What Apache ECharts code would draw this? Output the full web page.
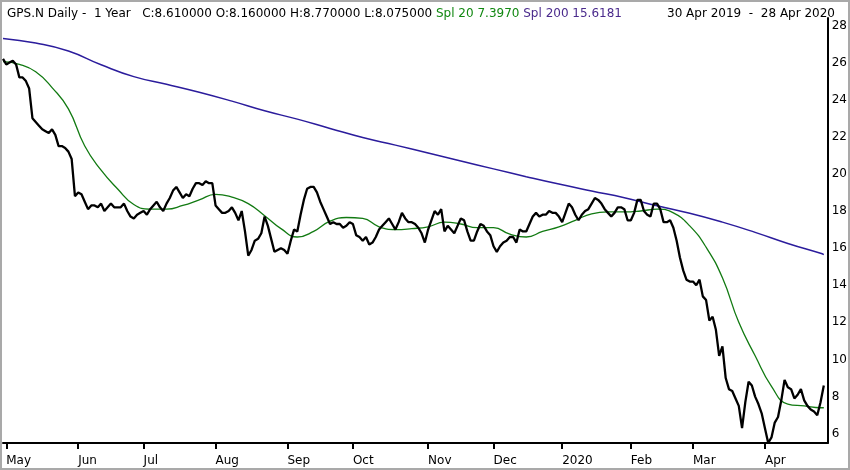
<!DOCTYPE html>
<html><head><meta charset="utf-8">
<script src="https://cdn.jsdelivr.net/npm/echarts@6/dist/echarts.min.js"></script>
<style>html,body{margin:0;padding:0;background:#fff}#c{width:850px;height:470px}</style>
</head><body><div id="c"></div>
<script>
// NYSE holidays inside the window
const holidays = ['2019-05-27','2019-07-04','2019-09-02','2019-11-28','2019-12-25','2020-01-01','2020-01-20','2020-02-17','2020-04-10'];
const startDate = '2019-04-30';
const endDate = '2020-04-28';
const monthLabels = ['May','Jun','Jul','Aug','Sep','Oct','Nov','Dec','2020','Feb','Mar','Apr'];
const yTicks = [6,8,10,12,14,16,18,20,22,24,26,28];

// daily close, one per trading day
const close = [
26.2,25.9,26.0,26.1,25.9,25.2,25.2,25.0,24.6,23.0,
22.8,22.6,22.4,22.3,22.2,22.4,22.1,21.5,21.5,21.4,
21.2,20.8,18.8,19.0,18.9,18.5,18.1,18.3,18.3,18.2,
18.4,18.0,18.2,18.4,18.2,18.2,18.2,18.4,18.0,17.7,
17.6,17.8,17.9,18.0,17.8,18.1,18.3,18.5,18.2,18.0,
18.4,18.7,19.1,19.3,19.0,18.7,18.9,18.8,19.2,19.5,
19.5,19.4,19.6,19.5,19.5,18.3,18.1,17.9,17.9,18.0,
18.2,17.9,17.5,18.0,16.9,15.6,15.9,16.4,16.5,16.8,
17.7,17.2,16.5,15.8,15.9,16.0,15.9,15.7,16.4,17.0,
16.9,17.8,18.6,19.2,19.3,19.3,19.0,18.5,18.1,17.7,
17.3,17.4,17.3,17.3,17.1,17.2,17.4,17.3,16.7,16.6,
16.4,16.6,16.2,16.3,16.6,17.0,17.2,17.4,17.6,17.3,
17.0,17.4,17.9,17.6,17.4,17.4,17.3,17.1,16.8,16.3,
17.0,17.5,18.0,17.8,18.1,16.9,17.2,17.0,16.8,17.2,
17.6,17.5,16.9,16.4,16.4,16.9,17.3,17.2,16.9,16.7,
16.1,15.8,16.1,16.3,16.4,16.6,16.6,16.3,17.0,16.9,
16.9,17.3,17.7,17.9,17.7,17.8,17.8,18.0,17.9,17.9,
17.7,17.4,17.9,18.4,18.2,17.8,17.5,17.8,18.0,18.1,
18.4,18.7,18.6,18.4,18.1,17.9,17.7,17.9,18.2,18.2,
18.1,17.5,17.5,17.9,18.6,18.6,18.0,17.8,17.7,18.4,
18.4,18.1,17.4,17.4,17.5,17.1,16.4,15.5,14.8,14.3,
14.2,14.2,14.0,14.3,13.4,13.2,12.1,12.3,11.6,10.2,
10.7,9.0,8.4,8.3,7.9,7.5,6.3,7.7,8.8,8.6,
8.0,7.6,7.1,6.3,5.5,5.8,6.6,6.9,7.8,8.9,
8.5,8.4,7.9,8.1,8.4,7.8,7.5,7.3,7.2,7.0,
7.7,8.6
];

// Spl 20 (read at every 5th trading day)
const spl20Day = [0,5,10,15,20,25,30,35,40,45,50,55,60,65,70,75,80,85,90,95,100,105,110,115,120,125,130,135,140,145,150,155,160,165,170,175,180,185,190,195,200,205,210,215,220,225,230,235,240,245,250,251];
const spl20 = [26.05,25.9,25.5,24.65,23.5,21.5,20.2,19.2,18.35,18.1,18.1,18.3,18.6,18.9,18.75,18.4,17.75,17.05,16.6,16.9,17.45,17.65,17.6,17.15,17.0,17.05,17.15,17.4,17.3,17.1,17.1,16.75,16.6,16.9,17.15,17.5,17.85,17.95,17.95,18.0,18.1,17.9,17.2,16.05,14.4,12.0,10.2,8.55,7.6,7.5,7.4,7.4];

// Spl 200 (read at every 10th trading day)
const spl200Day = [0,10,20,30,40,50,60,70,80,90,100,110,120,130,140,150,160,170,180,190,200,210,220,230,240,250,251];
const spl200 = [27.3,27.05,26.62,25.88,25.24,24.83,24.4,23.92,23.4,22.95,22.45,21.96,21.55,21.13,20.7,20.27,19.85,19.45,19.08,18.72,18.28,17.88,17.4,16.85,16.25,15.72,15.65];

function tradingDays(s, e) {
  const out = [];
  const d = new Date(s + 'T00:00:00Z');
  const end = new Date(e + 'T00:00:00Z');
  while (d <= end) {
    const iso = d.toISOString().slice(0, 10);
    const wd = d.getUTCDay();
    if (wd !== 0 && wd !== 6 && holidays.indexOf(iso) < 0) out.push(iso);
    d.setUTCDate(d.getUTCDate() + 1);
  }
  return out;
}
const dates = tradingDays(startDate, endDate);
const monthTicks = [];
for (let i = 1; i < dates.length; i++) {
  if (dates[i].slice(5, 7) !== dates[i - 1].slice(5, 7)) monthTicks.push(i);
}

const chart = echarts.init(document.getElementById('c'));
const FONT = 'DejaVu Sans';
chart.setOption({
  animation: false,
  backgroundColor: '#fff',
  title: [{
    left: 2, top: 3,
    text: '{k|GPS.N Daily -  1 Year   C:8.610000 O:8.160000 H:8.770000 L:8.075000 }{g|Spl 20 7.3970 }{p|Spl 200 15.6181}',
    textStyle: {
      fontFamily: FONT, fontSize: 12, fontWeight: 'normal',
      rich: {
        k: { color: '#000', fontFamily: FONT, fontSize: 12 },
        g: { color: '#118811', fontFamily: FONT, fontSize: 12 },
        p: { color: '#4a2a8c', fontFamily: FONT, fontSize: 12 }
      }
    }
  }, {
    right: 10, top: 3,
    text: '30 Apr 2019  -  28 Apr 2020',
    textStyle: { fontFamily: FONT, fontSize: 12, fontWeight: 'normal', color: '#000' }
  }],
  graphic: [{
    type: 'rect', silent: true,
    shape: { x: 1, y: 1, width: 848, height: 468 },
    style: { fill: 'none', stroke: '#a9a9a9', lineWidth: 2 }
  }],
  grid: { left: 3, right: 22, top: 18, bottom: 27 },
  xAxis: {
    type: 'value', min: 0, max: 252.2,
    splitLine: { show: false },
    axisLine: { show: true, onZero: false, lineStyle: { color: '#000', width: 2 } },
    axisTick: { show: true, customValues: monthTicks, length: 6, lineStyle: { color: '#000', width: 2 } },
    axisLabel: {
      customValues: monthTicks, align: 'left', margin: 12,
      fontFamily: FONT, fontSize: 12, color: '#000',
      formatter: v => { const k = monthTicks.indexOf(Math.round(v)); return k >= 0 ? monthLabels[k] : ''; }
    }
  },
  yAxis: {
    type: 'value', position: 'right', min: 5.5, max: 28.4,
    splitLine: { show: false },
    axisLine: { show: true, onZero: false, lineStyle: { color: '#000', width: 2 } },
    axisTick: { show: false },
    axisLabel: { customValues: yTicks, margin: 4, fontFamily: FONT, fontSize: 12, color: '#000' }
  },
  series: [{
    type: 'line', name: 'Spl 200', symbol: 'none', smooth: true,
    data: spl200Day.map((d, i) => [d, spl200[i]]),
    lineStyle: { color: '#2b1c9c', width: 1.5 }
  }, {
    type: 'line', name: 'Spl 20', symbol: 'none', smooth: true,
    data: spl20Day.map((d, i) => [d, spl20[i]]),
    lineStyle: { color: '#127a12', width: 1.3 }
  }, {
    type: 'line', name: 'GPS.N', symbol: 'none',
    data: close.map((v, i) => [i, v]),
    lineStyle: { color: '#000', width: 2.3 }
  }]
});
</script></body></html>
